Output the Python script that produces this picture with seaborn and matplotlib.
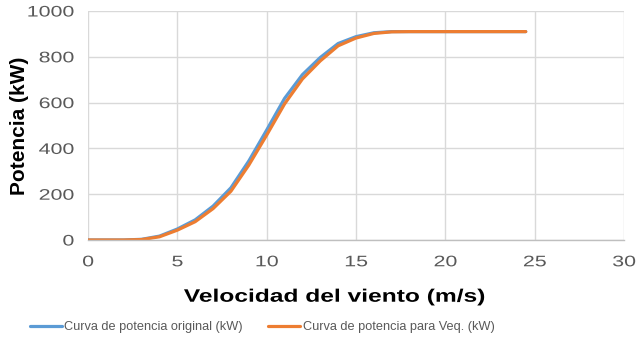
import numpy as np
import pandas as pd
import matplotlib
matplotlib.use("Agg")
import matplotlib.pyplot as plt
import seaborn as sns
from matplotlib.patheffects import AbstractPathEffect
from matplotlib.transforms import Affine2D

speed = [0, 1, 2, 3, 4, 5, 6, 7, 8, 9, 10, 11, 12, 13, 14, 15, 16, 17, 18, 19, 20, 21, 22, 23, 24, 24.5]
power_original = [0, 0, 0, 3, 17, 48, 88, 148, 228, 345, 480, 618, 722, 797, 858, 888, 905, 910, 910, 910, 910, 910, 910, 910, 910, 910]
power_veq = [0, 0, 0, 2, 14, 43, 80, 137, 213, 327, 458, 594, 703, 782, 848, 882, 902, 909, 910, 910, 910, 910, 910, 910, 910, 910]
series_names = ["Curva de potencia original (kW)", "Curva de potencia para Veq. (kW)"]
colors = ["#5B9BD5", "#ED7D31"]


class Stretch(AbstractPathEffect):
    """Widen glyphs along the text direction, keeping the given anchor fixed."""
    def __init__(self, sx=1.0, anchor=0.0):
        super().__init__()
        self.sx = sx
        self.anchor = anchor

    def draw_path(self, renderer, gc, tpath, affine, rgbFace=None):
        ext = tpath.get_extents()
        w = ext.x1
        pre = Affine2D().translate(-self.anchor * w, 0).scale(self.sx, 1).translate(self.anchor * w, 0)
        renderer.draw_path(gc, tpath, pre + affine, rgbFace)


df = pd.DataFrame({
    "speed": speed * 2,
    "power": power_original + power_veq,
    "serie": [series_names[0]] * len(speed) + [series_names[1]] * len(speed),
})

sns.set_theme(style="white")
plt.rcParams["font.family"] = ["Liberation Sans", "DejaVu Sans"]

fig = plt.figure(figsize=(6.39, 3.39), dpi=100)
ax = fig.add_axes([88 / 639, 1 - 240 / 339, (624 - 88) / 639, (240 - 11) / 339])

sns.lineplot(data=df, x="speed", y="power", hue="serie", palette=colors,
             linewidth=2.3, ax=ax, legend=True, sort=False)

ax.set_xlim(0, 30)
ax.set_ylim(0, 1000)
ax.set_xticks(range(0, 31, 5))
ax.set_yticks(range(0, 1001, 200))
ax.grid(True, color="#d9d9d9", linewidth=1)
ax.set_axisbelow(True)
for s in ["top", "right", "left"]:
    ax.spines[s].set_visible(False)
ax.spines["bottom"].set_color("#bfbfbf")
ax.spines["bottom"].set_linewidth(1)
ax.tick_params(axis="x", length=0, labelsize=11, colors="#595959", pad=11)
ax.tick_params(axis="y", length=0, labelsize=11, colors="#595959", pad=10)

ax.set_xlabel("Velocidad del viento (m/s)", fontsize=13, fontweight="bold", color="black",
              labelpad=14, x=(334 - 88) / 536, ha="center")
ax.set_ylabel("Potencia (kW)", fontsize=15, fontweight="bold", color="black", labelpad=8)
ax.xaxis.label.set_path_effects([Stretch(1.36, 0.5)])

leg = ax.legend(loc="upper center", bbox_to_anchor=(0.325, -0.305), ncol=2, frameon=False,
                fontsize=9.2, handlelength=2.5, handletextpad=0.2, columnspacing=2.0)
for t in leg.get_texts():
    t.set_color("#595959")
for l in leg.get_lines():
    l.set_linewidth(2.3)

fig.canvas.draw()
for lab in ax.get_xticklabels():
    lab.set_path_effects([Stretch(1.4, 0.5)])
for lab in ax.get_yticklabels():
    lab.set_path_effects([Stretch(1.4, 1.0)])

fig.savefig("out.png", dpi=100)
